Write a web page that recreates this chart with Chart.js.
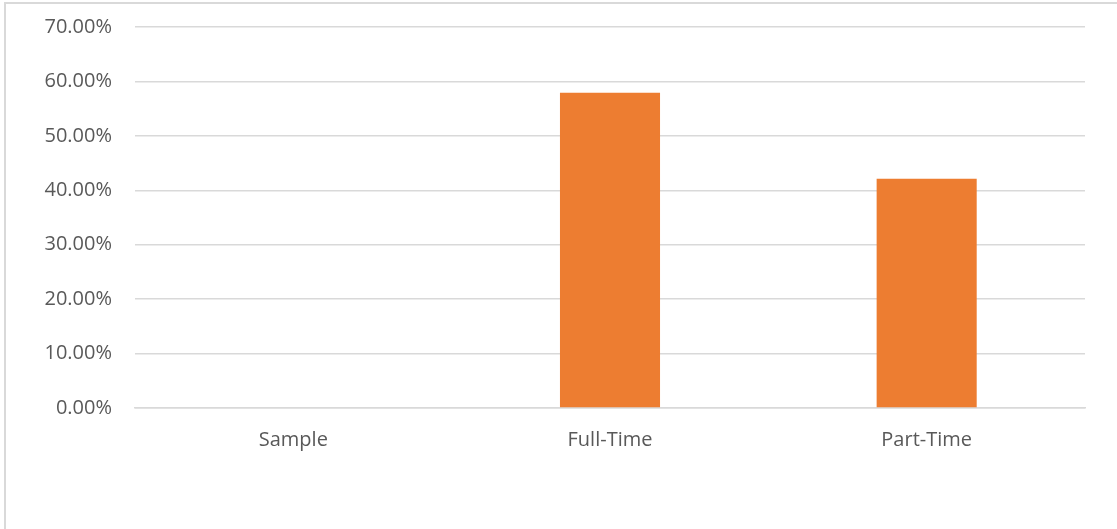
<!DOCTYPE html>
<html>
<head>
<meta charset="utf-8">
<script src="https://cdn.jsdelivr.net/npm/chart.js@4"></script>
<style>
    html, body { margin: 0; padding: 0; background: #ffffff; overflow: hidden; }
    #wrap { position: relative; width: 1117px; height: 529px; }
    #frame { position: absolute; left: 4px; top: 2px; width: 1200px; height: 600px; border-left: 2px solid #d9d9d9; border-top: 2px solid #d9d9d9; pointer-events: none; }
    canvas { position: absolute; left: 0; top: 0; }
</style>
</head>
<body>
<div id="wrap">
    <canvas id="chart" width="1117" height="529"></canvas>
    <div id="frame"></div>
</div>
<script>
// datos del grafico
const categories = ['Sample', 'Full-Time', 'Part-Time'];
const shares = [0, 57.9, 42.1];
const yTicks = [0, 10, 20, 30, 40, 50, 60, 70];

const GRID = '#d9d9d9';
const TEXT = '#595959';
const FONT = "'Open Sans', 'Liberation Sans', sans-serif";

new Chart(document.getElementById('chart'), {
    type: 'bar',
    data: {
        labels: categories,
        datasets: [{ data: shares, backgroundColor: '#ed7d31', borderWidth: 0, barPercentage: 0.632, categoryPercentage: 0.5 }]
    },
    options: {
        responsive: false, animation: false,
        layout: { padding: { top: 27, right: 32, left: 0, bottom: 0 } },
        scales: {
            x: {
                grid: { display: false, drawTicks: false },
                border: { color: GRID, width: 1.5 },
                ticks: { color: TEXT, font: { family: FONT, size: 20 }, padding: 20 },
                afterFit: (s) => { s.height = 121; s.paddingLeft = 0; s.paddingRight = 0; }
            },
            y: {
                min: 0, max: 70,
                afterBuildTicks: (s) => { s.ticks = yTicks.map(v => ({ value: v })); },
                grid: { color: GRID, lineWidth: 1.5, drawTicks: false },
                border: { display: false },
                ticks: { color: TEXT, font: { family: FONT, size: 20 }, padding: 23, callback: (v) => v.toFixed(2) + '%' },
                afterFit: (s) => { s.width = 135; s.paddingTop = 0; s.paddingBottom = 0; }
            }
        },
        plugins: { legend: { display: false }, tooltip: { enabled: false } }
    }
});
</script>
</body>
</html>
